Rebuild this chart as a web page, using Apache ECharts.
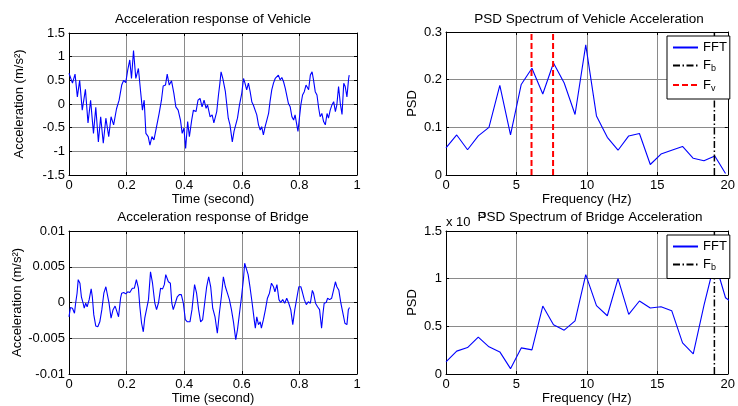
<!DOCTYPE html>
<html>
<head>
<meta charset="utf-8">
<script src="https://cdn.jsdelivr.net/npm/echarts@6/dist/echarts.min.js"></script>
<style>
html, body { margin: 0; padding: 0; background: #fff; }
#chart { width: 738px; height: 406px; }
</style>
</head>
<body>
<div id="chart"></div>
<script>
// Vehicle acceleration record: [time (s), acceleration (m/s^2)]
const vehicleSamples = [
  [0.000,0.65],[0.005,0.66],[0.012,0.44],[0.021,0.63],[0.029,0.15],[0.037,0.50],[0.046,-0.13],
  [0.057,0.31],[0.066,-0.40],[0.075,0.08],[0.085,-0.62],[0.093,-0.07],[0.102,-0.80],[0.110,-0.27],
  [0.119,-0.83],[0.128,-0.30],[0.138,-0.69],[0.146,-0.27],[0.155,-0.44],[0.165,-0.10],[0.174,0.08],
  [0.183,0.40],[0.190,0.50],[0.197,0.45],[0.204,0.72],[0.211,0.93],[0.217,0.54],[0.224,1.13],
  [0.232,0.54],[0.241,0.75],[0.248,0.30],[0.255,-0.13],[0.261,0.08],[0.267,-0.62],[0.275,-0.69],
  [0.281,-0.87],[0.288,-0.69],[0.295,-0.76],[0.304,-0.48],[0.313,-0.20],[0.321,0.08],[0.327,0.38],
  [0.335,0.40],[0.341,0.63],[0.348,0.40],[0.356,0.49],[0.364,0.23],[0.371,-0.06],[0.379,-0.13],
  [0.387,-0.34],[0.393,-0.62],[0.399,-0.51],[0.405,-0.94],[0.412,-0.37],[0.418,-0.69],[0.426,-0.34],
  [0.432,-0.13],[0.441,-0.16],[0.448,0.08],[0.455,0.12],[0.462,-0.06],[0.469,0.08],[0.476,-0.09],
  [0.481,-0.02],[0.490,-0.27],[0.497,-0.23],[0.503,-0.40],[0.513,-0.16],[0.519,0.19],[0.524,0.44],
  [0.528,0.68],[0.534,0.54],[0.539,0.51],[0.543,0.26],[0.548,-0.02],[0.553,-0.30],[0.559,-0.44],
  [0.567,-0.80],[0.573,-0.58],[0.579,-0.58],[0.585,-0.30],[0.592,-0.02],[0.600,0.23],[0.606,0.54],
  [0.611,0.44],[0.617,0.30],[0.623,0.44],[0.629,0.26],[0.635,0.04],[0.640,-0.02],[0.646,0.01],
  [0.652,-0.23],[0.658,-0.44],[0.664,-0.55],[0.669,-0.48],[0.675,-0.65],[0.681,-0.48],[0.687,-0.34],
  [0.693,-0.20],[0.698,0.05],[0.704,0.30],[0.710,0.44],[0.716,0.54],[0.722,0.58],[0.727,0.61],
  [0.733,0.51],[0.739,0.56],[0.745,0.47],[0.751,0.33],[0.757,0.33],[0.762,0.01],[0.768,-0.06],
  [0.774,-0.27],[0.780,-0.34],[0.785,-0.23],[0.791,-0.44],[0.795,-0.58],[0.800,-0.30],[0.805,-0.02],
  [0.811,0.19],[0.817,0.26],[0.823,0.40],[0.826,0.44],[0.832,0.30],[0.838,0.61],[0.844,0.68],
  [0.849,0.51],[0.855,0.26],[0.861,0.19],[0.867,-0.09],[0.872,-0.27],[0.878,-0.20],[0.884,-0.37],
  [0.890,-0.44],[0.896,-0.20],[0.901,-0.30],[0.907,-0.13],[0.913,-0.02],[0.919,0.05],[0.925,-0.16],
  [0.930,-0.02],[0.936,0.37],[0.942,0.01],[0.948,-0.22],[0.954,0.44],[0.959,0.37],[0.965,0.15],
  [0.971,0.54],[0.973,0.61]
];

// Bridge acceleration record: [time (s), acceleration (m/s^2)]
const bridgeSamples = [
  [0.000,-0.0020],[0.005,-0.0007],[0.012,-0.0008],[0.019,-0.0015],[0.023,-0.0001],[0.028,0.0013],
  [0.032,0.0032],[0.038,0.0027],[0.043,0.0008],[0.049,-0.0001],[0.053,-0.0008],[0.058,-0.0001],
  [0.063,-0.0006],[0.070,0.0004],[0.077,0.0019],[0.081,0.0008],[0.086,-0.0017],[0.093,-0.0033],
  [0.100,-0.0034],[0.107,-0.0027],[0.114,-0.0010],[0.121,0.0013],[0.128,0.0022],[0.133,0.0020],
  [0.139,-0.0001],[0.146,-0.0022],[0.153,-0.0010],[0.160,-0.0005],[0.165,-0.0011],[0.172,-0.0020],
  [0.179,0.0006],[0.183,0.0013],[0.190,0.0014],[0.197,0.0012],[0.204,0.0015],[0.211,0.0014],
  [0.220,0.0020],[0.227,0.0020],[0.234,0.0032],[0.241,0.0020],[0.246,-0.0006],[0.252,-0.0029],
  [0.258,-0.0041],[0.263,-0.0022],[0.269,-0.0010],[0.276,0.0004],[0.283,0.0043],[0.290,0.0027],
  [0.298,-0.0001],[0.304,-0.0010],[0.311,0.0000],[0.318,0.0020],[0.325,0.0019],[0.331,0.0025],
  [0.336,0.0039],[0.345,0.0029],[0.352,0.0027],[0.357,-0.0001],[0.362,-0.0010],[0.369,-0.0001],
  [0.376,0.0008],[0.383,0.0011],[0.390,0.0011],[0.397,-0.0001],[0.404,-0.0024],[0.411,-0.0027],
  [0.420,-0.0027],[0.427,-0.0010],[0.436,0.0025],[0.443,0.0013],[0.450,-0.0010],[0.457,-0.0027],
  [0.464,-0.0024],[0.471,-0.0001],[0.478,0.0022],[0.485,0.0036],[0.492,0.0022],[0.499,-0.0008],
  [0.507,-0.0020],[0.515,-0.0043],[0.522,-0.0015],[0.529,0.0008],[0.536,0.0036],[0.543,0.0022],
  [0.550,0.0013],[0.557,0.0004],[0.564,-0.0010],[0.571,-0.0027],[0.579,-0.0052],[0.585,-0.0038],
  [0.592,-0.0015],[0.599,0.0008],[0.606,0.0034],[0.610,0.0055],[0.616,0.0055],[0.622,0.0039],
  [0.629,0.0020],[0.636,-0.0001],[0.643,-0.0024],[0.647,-0.0036],[0.652,-0.0020],[0.658,-0.0031],
  [0.664,-0.0027],[0.668,-0.0036],[0.675,-0.0024],[0.682,-0.0010],[0.689,0.0006],[0.696,0.0013],
  [0.703,0.0027],[0.710,0.0022],[0.715,0.0015],[0.722,0.0025],[0.729,0.0004],[0.735,0.0000],
  [0.742,0.0004],[0.749,-0.0001],[0.756,0.0006],[0.763,-0.0001],[0.770,-0.0010],[0.777,-0.0031],
  [0.784,-0.0010],[0.791,0.0006],[0.798,0.0022],[0.805,0.0022],[0.810,0.0015],[0.817,0.0004],
  [0.824,-0.0003],[0.831,0.0001],[0.838,-0.0001],[0.845,0.0017],[0.849,0.0013],[0.856,-0.0001],
  [0.863,-0.0006],[0.870,-0.0010],[0.877,-0.0036],[0.882,-0.0015],[0.886,-0.0001],[0.893,0.0000],
  [0.898,0.0006],[0.905,0.0004],[0.912,0.0006],[0.919,0.0018],[0.925,0.0029],[0.930,0.0022],
  [0.937,0.0017],[0.944,-0.0001],[0.951,-0.0015],[0.958,-0.0029],[0.965,-0.0031],[0.970,-0.0010],
  [0.974,-0.0007]
];

// Spectral lines (Hz)
const freqHz = [0, 0.76, 1.53, 2.29, 3.05, 3.82, 4.58, 5.34, 6.10, 6.87, 7.63, 8.39, 9.16, 9.92,
  10.68, 11.45, 12.21, 12.97, 13.73, 14.50, 15.26, 16.02, 16.79, 17.55, 18.31, 19.08, 19.84, 20.60];

// PSD of vehicle acceleration
const vehiclePsd = [0.057, 0.084, 0.053, 0.082, 0.100, 0.188, 0.084, 0.190, 0.224, 0.170, 0.235,
  0.193, 0.127, 0.273, 0.124, 0.079, 0.052, 0.082, 0.087, 0.022, 0.044, 0.052, 0.060, 0.035,
  0.030, 0.040, 0.003];

// PSD of bridge acceleration, in units of 1e-3
const bridgePsd = [0.126, 0.240, 0.277, 0.386, 0.285, 0.232, 0.056, 0.274, 0.253, 0.713, 0.516,
  0.460, 0.558, 1.043, 0.717, 0.611, 1.000, 0.625, 0.766, 0.692, 0.706, 0.664, 0.327, 0.211,
  0.720, 1.180, 0.800, 0.720];

// Vehicle frequencies F_v and bridge frequency F_b (Hz)
const vehicleFreqs = [6.07, 7.60];
const bridgeFreq = 19.05;

const FONT = '"Liberation Sans", Arial, Helvetica, sans-serif';
const BLUE = '#0000ff';
const GRID_COLOR = '#8a8a8a';

const grids = [
  { left: 69,  top: 33,  width: 288, height: 142 },
  { left: 446, top: 32,  width: 286, height: 143 },
  { left: 69,  top: 231, width: 288, height: 143 },
  { left: 446, top: 231, width: 286, height: 143 }
];

const ranges = [
  { x: [0, 1, 0.2], y: [-1.5, 1.5, 0.5], xName: 'Time (second)', yName: 'Acceleration (m/s²)', yGap: 43 },
  { x: [0, 20, 5], y: [0, 0.3, 0.1], xName: 'Frequency (Hz)', yName: 'PSD', yGap: 27 },
  { x: [0, 1, 0.2], y: [-0.01, 0.01, 0.005], xName: 'Time (second)', yName: 'Acceleration (m/s²)', yGap: 43 },
  { x: [0, 20, 5], y: [0, 1.5, 0.5], xName: 'Frequency (Hz)', yName: 'PSD', yGap: 27 }
];

const tick = { show: true, inside: true, length: 3, lineStyle: { color: '#000', width: 1 } };
const line = { show: true, onZero: false, lineStyle: { color: '#000', width: 1 } };
const label = { color: '#000', fontSize: 13, fontFamily: FONT };

const xAxis = [];
const yAxis = [];
ranges.forEach((r, i) => {
  xAxis.push({
    type: 'value', gridIndex: i, position: 'bottom', min: r.x[0], max: r.x[1], interval: r.x[2],
    axisLine: line, axisTick: tick, axisLabel: Object.assign({ margin: 4 }, label),
    splitLine: { show: true, lineStyle: { color: GRID_COLOR, width: 1 } },
    name: r.xName, nameLocation: 'middle', nameGap: 17,
    nameTextStyle: { color: '#000', fontSize: 13, fontFamily: FONT }
  });
  xAxis.push({
    type: 'value', gridIndex: i, position: 'top', min: r.x[0], max: r.x[1], interval: r.x[2],
    axisLine: line, axisTick: tick, axisLabel: { show: false }, splitLine: { show: false }
  });
  yAxis.push({
    type: 'value', gridIndex: i, position: 'left', min: r.y[0], max: r.y[1], interval: r.y[2],
    axisLine: line, axisTick: tick, axisLabel: Object.assign({ margin: 4 }, label),
    splitLine: { show: true, lineStyle: { color: GRID_COLOR, width: 1 } },
    name: r.yName, nameLocation: 'middle', nameGap: r.yGap,
    nameTextStyle: { color: '#000', fontSize: 13, fontFamily: FONT }
  });
  yAxis.push({
    type: 'value', gridIndex: i, position: 'right', min: r.y[0], max: r.y[1], interval: r.y[2],
    axisLine: line, axisTick: tick, axisLabel: { show: false }, splitLine: { show: false }
  });
});

function pairs(xs, ys) {
  return ys.map((v, k) => [xs[k], v]);
}

function trace(name, grid, data, style) {
  return {
    name: name, type: 'line', xAxisIndex: grid * 2, yAxisIndex: grid * 2, data: data,
    symbol: 'none', showSymbol: false, clip: true, animation: false, silent: true,
    lineStyle: style, itemStyle: { color: style.color }
  };
}

const dashDot = [7, 2.5, 1.5, 2.5];
const fbStyle = { color: '#000', width: 1.5, type: dashDot };
const fvStyle = { color: '#ff0000', width: 2, type: [6, 3] };
const fftStyle = { color: BLUE, width: 1.1 };

const series = [
  trace('vehicle', 0, vehicleSamples, fftStyle),
  trace('bridge', 2, bridgeSamples, fftStyle),
  trace('FFT', 1, pairs(freqHz, vehiclePsd), fftStyle),
  trace('F_b', 1, [[bridgeFreq, 0], [bridgeFreq, 0.3]], fbStyle),
  trace('F_v', 1, [[vehicleFreqs[0], 0], [vehicleFreqs[0], 0.3]], fvStyle),
  trace('F_v', 1, [[vehicleFreqs[1], 0], [vehicleFreqs[1], 0.3]], fvStyle),
  trace('FFT', 3, pairs(freqHz, bridgePsd), fftStyle),
  trace('F_b', 3, [[bridgeFreq, 0], [bridgeFreq, 1.5]], fbStyle)
];

const legendText = {
  color: '#000', fontSize: 13, fontFamily: FONT,
  rich: {
    t: { fontSize: 13, fontFamily: FONT, color: '#000', lineHeight: 16 },
    s: { fontSize: 9, fontFamily: FONT, color: '#000', lineHeight: 9, verticalAlign: 'bottom' }
  }
};
function legendLabel(n) {
  return n === 'FFT' ? '{t|FFT}' : '{t|F}{s|' + n.slice(2) + '}';
}
// Legend keys show only the line sample of each series (the marker is made transparent)
function legendBox(top, names) {
  return {
    left: 667, top: top, orient: 'vertical', data: names, selectedMode: false, icon: 'inherit',
    itemWidth: 25, itemHeight: 14, itemGap: 5, padding: [5, 3, 6, 5],
    itemStyle: { color: 'rgba(0,0,0,0)', borderColor: 'rgba(0,0,0,0)', borderWidth: 0 },
    backgroundColor: '#fff', borderColor: '#000', borderWidth: 1, borderRadius: 0,
    textStyle: legendText, formatter: legendLabel, z: 10
  };
}

const titleStyle = { color: '#000', fontSize: 13.5, fontWeight: 'normal', fontFamily: FONT };
function heading(text, cx, top) {
  return { text: text, left: cx, top: top, textAlign: 'center', padding: 0, textStyle: titleStyle };
}

const chart = echarts.init(document.getElementById('chart'), null, { renderer: 'canvas' });
chart.setOption({
  backgroundColor: '#fff',
  animation: false,
  title: [
    heading('Acceleration response of Vehicle', 213, 12),
    heading('PSD Spectrum of Vehicle Acceleration', 589, 12),
    heading('Acceleration response of Bridge', 213, 210),
    heading('PSD Spectrum of Bridge Acceleration', 590, 210)
  ],
  legend: [
    legendBox(36, ['FFT', 'F_b', 'F_v']),
    legendBox(235, ['FFT', 'F_b'])
  ],
  grid: grids,
  xAxis: xAxis,
  yAxis: yAxis,
  series: series,
  graphic: [
    { type: 'text', left: 446, top: 216, style: { text: 'x 10', fontSize: 13, fontFamily: FONT, fill: '#000' } },
    { type: 'text', left: 478, top: 211, style: { text: '-3', fontSize: 9, fontFamily: FONT, fill: '#000' } }
  ]
});
</script>
</body>
</html>
